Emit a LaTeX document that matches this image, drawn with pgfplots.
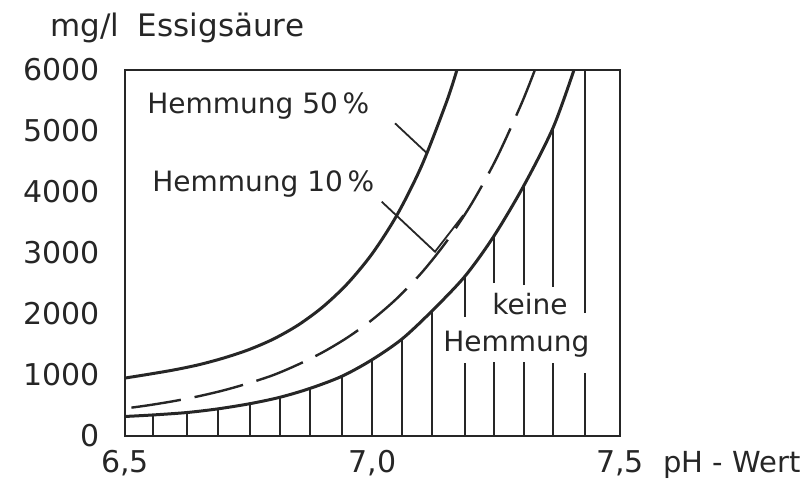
\documentclass[border=0pt]{standalone}
\usepackage{fontspec}
\setmainfont{DejaVu Sans}
\usepackage{pgfplots}
\pgfplotsset{compat=1.18}
\definecolor{ink}{gray}{0.15}
\newcommand\fs[1]{\fontsize{#1}{#1}\selectfont}

\begin{document}
\begin{tikzpicture}
\begin{axis}[
  scale only axis,
  width=247.5pt, height=183pt,
  xmin=6.5, xmax=7.5, ymin=0, ymax=6000,
  axis line style={ink, line width=1pt},
  xtick={6.5,7.0,7.5}, xticklabels={{6,5},{7,0},{7,5}},
  ytick={0,1000,2000,3000,4000,5000,6000},
  yticklabels={0,1000,2000,3000,4000,5000,6000},
  major tick length=0pt,
  tick label style={font=\fs{15}, text=ink},
  yticklabel style={anchor=east, inner sep=0pt, xshift=-12.5pt},
  xticklabel style={anchor=base, inner sep=0pt, yshift=-18pt},
  clip mode=individual,
  every axis plot/.append style={ink},
]
% hatching: region without inhibition (gaps left for the text)
\addplot[line width=1.1pt, unbounded coords=jump] coordinates {
  (6.5566,0)(6.5566,345)(6.5566,nan)
  (6.6253,0)(6.6253,385)(6.6253,nan)
  (6.6879,0)(6.6879,445)(6.6879,nan)
  (6.7525,0)(6.7525,530)(6.7525,nan)
  (6.8131,0)(6.8131,635)(6.8131,nan)
  (6.8737,0)(6.8737,780)(6.8737,nan)
  (6.9384,0)(6.9384,980)(6.9384,nan)
  (6.9990,0)(6.9990,1250)(6.9990,nan)
  (7.0596,0)(7.0596,1590)(7.0596,nan)
  (7.1202,0)(7.1202,2050)(7.1202,nan)
  (7.1869,0)(7.1869,1197)(7.1869,nan)(7.1869,1951)(7.1869,2620)(7.1869,nan)
  (7.2455,0)(7.2455,1213)(7.2455,nan)(7.2455,2508)(7.2455,3280)(7.2455,nan)
  (7.3061,0)(7.3061,1213)(7.3061,nan)(7.3061,2475)(7.3061,4110)(7.3061,nan)
  (7.3646,0)(7.3646,1197)(7.3646,nan)(7.3646,2443)(7.3646,5050)(7.3646,nan)
  (7.4293,0)(7.4293,1033)(7.4293,nan)(7.4293,2016)(7.4293,6000)
};

% Hemmung 50 %
\addplot[line width=1.5pt, smooth] coordinates {
  (6.50,950)(6.55,1015)(6.60,1085)(6.65,1170)(6.70,1280)(6.75,1415)
  (6.80,1590)(6.85,1820)(6.90,2119)(6.95,2503)(7.00,2996)(7.05,3630)
  (7.10,4443)(7.15,5487)(7.1705,6000)
};

% Hemmung 10 %
\addplot[line width=1.2pt, smooth, dash pattern=on 25pt off 7pt] coordinates {
  (6.513,465)(6.55,507)(6.60,574)(6.65,654)(6.70,750)(6.75,866)(6.80,1000)
  (6.85,1173)(6.90,1375)(6.95,1618)(7.00,1910)(7.05,2261)(7.10,2684)
  (7.15,3194)(7.20,3806)(7.25,4543)(7.30,5430)(7.328,6000)
};

% keine Hemmung (boundary)
\addplot[line width=1.5pt, smooth] coordinates {
  (6.5,320)(6.5566,345)(6.6253,385)(6.6879,445)(6.7525,530)(6.8131,635)
  (6.8737,780)(6.9384,980)(6.9990,1250)(7.0596,1590)(7.1202,2050)
  (7.1869,2620)(7.2455,3280)(7.3061,4110)(7.3646,5050)(7.4070,6000)
};

% leader lines
\addplot[line width=0.9pt] coordinates {(7.0455,5126)(7.1094,4640)};
\addplot[line width=0.9pt] coordinates {(7.0186,3841)(7.1263,3021)(7.1834,3620)};

\coordinate (BL) at (rel axis cs:0,0);
\coordinate (TR) at (rel axis cs:1,1);

\begin{scope}[every node/.style={inner sep=0pt, text=ink}]
\node[anchor=base west, font=\fs{14}] at (axis cs:6.5444,5295) {Hemmung 50\,\%};
\node[anchor=base west, font=\fs{14}] at (axis cs:6.5545,4000) {Hemmung 10\,\%};
\node[anchor=base west, font=\fs{14}] at (axis cs:7.2414,1984) {keine};
\node[anchor=base west, font=\fs{14}] at (axis cs:7.1424,1382) {Hemmung};
\node[anchor=base west, font=\fs{15.5}, xshift=-37.5pt, yshift=16.5pt]
  at (rel axis cs:0,1) {mg/l\hspace{0.6em}Essigsäure};
\node[anchor=base west, font=\fs{14.5}, xshift=21.5pt, yshift=-18pt]
  at (rel axis cs:1,0) {pH - Wert};
\end{scope}
\end{axis}
\pgfresetboundingbox
\path ([shift={(-62.5pt,-22pt)}]BL) rectangle ([shift={(93pt,35pt)}]TR);
\end{tikzpicture}
\end{document}
